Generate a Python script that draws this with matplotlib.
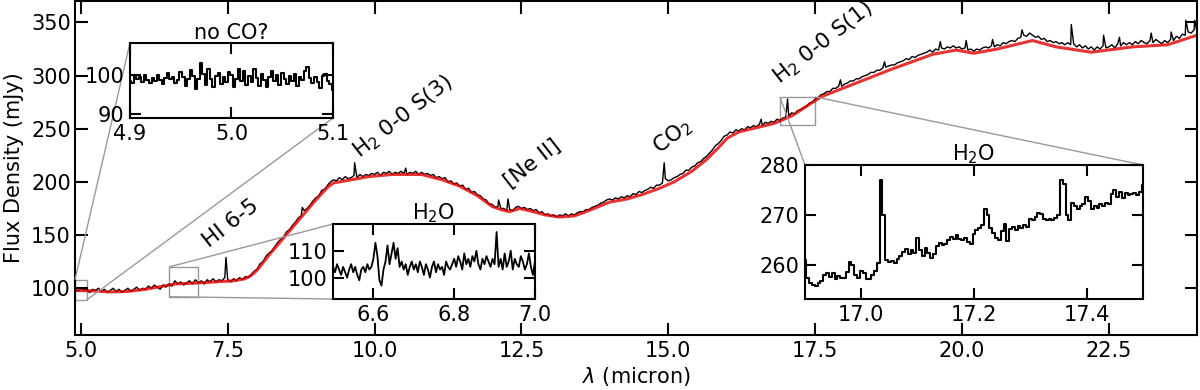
import numpy as np
import matplotlib
matplotlib.use('Agg')
import matplotlib.pyplot as plt
from mpl_toolkits.axes_grid1.inset_locator import mark_inset

# full spectrum, sampled every 0.05 micron from 4.90 to 24.00 (one row = 1 micron)
flux = [99, 97, 100, 98, 99, 96, 99, 98, 100, 97, 99, 96, 98, 100, 97, 99, 96, 98, 100, 97,
        99, 101, 98, 100, 99, 102, 100, 103, 101, 99, 103, 101, 104, 102, 107, 104, 106, 103, 105, 107,
        104, 108, 105, 107, 104, 108, 106, 109, 106, 108, 107, 110, 108, 106, 109, 107, 110, 108, 111, 110,
        113, 116, 118, 123, 125, 130, 133, 135, 139, 143, 146, 148, 153, 155, 159, 162, 166, 168, 173, 175,
        178, 182, 185, 187, 192, 193, 197, 200, 202, 201, 204, 202, 205, 203, 204, 206, 204, 207, 205, 207,
        206, 208, 207, 209, 206, 209, 208, 210, 207, 209, 208, 210, 208, 207, 209, 208, 210, 207, 209, 207,
        208, 206, 207, 204, 205, 203, 204, 200, 201, 198, 199, 196, 197, 193, 194, 190, 191, 188, 187, 184,
        183, 179, 179, 176, 177, 175, 175, 173, 174, 173, 176, 177, 175, 176, 174, 175, 173, 174, 171, 172,
        169, 170, 168, 169, 167, 169, 168, 170, 168, 170, 169, 171, 172, 172, 174, 174, 176, 177, 178, 180,
        181, 183, 184, 183, 185, 184, 186, 185, 187, 186, 189, 188, 191, 190, 192, 193, 195, 194, 197, 197,
        199, 203, 201, 202, 204, 205, 207, 208, 211, 211, 214, 215, 218, 219, 222, 224, 227, 230, 234, 236,
        239, 243, 244, 247, 246, 249, 248, 250, 249, 252, 251, 253, 252, 254, 253, 256, 255, 257, 256, 259,
        258, 260, 261, 262, 265, 264, 267, 268, 270, 271, 274, 275, 278, 279, 282, 283, 285, 285, 288, 288,
        290, 290, 292, 293, 295, 295, 297, 297, 299, 300, 301, 303, 303, 305, 305, 307, 308, 309, 310, 310,
        312, 313, 314, 316, 315, 318, 317, 319, 320, 321, 322, 324, 322, 325, 324, 326, 325, 327, 326, 328,
        326, 327, 325, 326, 324, 325, 323, 325, 324, 326, 327, 326, 328, 327, 329, 328, 331, 330, 332, 333,
        332, 335, 336, 338, 337, 340, 338, 336, 337, 334, 335, 332, 333, 331, 332, 330, 331, 329, 331, 329,
        330, 327, 329, 326, 328, 325, 327, 324, 327, 325, 328, 326, 327, 329, 326, 330, 328, 331, 329, 331,
        329, 332, 330, 333, 331, 330, 333, 331, 334, 332, 330, 333, 331, 334, 333, 337, 335, 339, 338, 341,
        340, 343, 341]

# narrow emission features on top of the spectrum
line_wave = [7.47, 8.77, 9.66, 10.53, 12.11, 12.27, 14.93, 16.58, 17.03, 17.93, 18.68,
             19.63, 20.07, 20.52, 21.02, 21.86, 22.41, 22.68, 23.22, 23.56, 23.81, 23.96]
line_flux = [129, 176, 218, 213, 183, 184, 218, 259, 278, 296, 313,
             332, 333, 334, 343, 348, 338, 336, 340, 341, 352, 352]

# smooth continuum model
cont_wave = [4.9, 5.2, 5.5, 5.8, 6.1, 6.3, 6.6, 7.0, 7.3, 7.6, 7.8, 7.9, 8.0, 8.2,
             8.4, 8.6, 8.8, 9.0, 9.2, 9.3, 9.6, 9.9, 10.3, 10.8, 11.15, 11.45,
             11.75, 12.0, 12.15, 12.3, 12.47, 12.7, 12.9, 13.15, 13.4, 13.6, 14.0,
             14.3, 14.55, 14.85, 15.1, 15.4, 15.65, 15.85, 16.0, 16.2, 16.5, 16.8,
             17.1, 17.6, 18.2, 18.8, 19.2, 19.5, 19.9, 20.2, 20.6, 21.2, 21.6,
             22.2, 22.9, 23.5, 24.0]
cont_flux = [98, 97.5, 96.5, 97, 99, 101, 104, 105, 106, 107, 109, 112, 117, 131,
             144, 157, 170, 183, 195, 199, 202, 205, 207, 207, 202, 196, 187, 177,
             174, 172, 175, 172, 169, 167, 168, 172, 181, 184, 188, 194, 200, 210,
             221, 232, 241, 247, 251, 255, 262, 280, 293, 306, 314, 320, 324, 321,
             325, 333, 327, 322, 327, 329, 338]

# zoom 1: 4.9 - 5.1 micron
co_flux = [98.5, 97.8, 99.6, 98.9, 99.3, 98.2, 99.8, 98.6, 97.9, 99.1, 98.4, 99.9,
           98.7, 97.5, 99.2, 100.3, 98.8, 99.5, 97.9, 98.6, 100.6, 99.4, 97.2, 99.0,
           101.2, 99.6, 96.4, 98.8, 103.0, 100.1, 97.4, 101.5, 98.9, 96.8, 99.7,
           100.4, 97.6, 99.3, 98.1, 100.6, 99.8, 96.9, 99.0, 101.3, 98.4, 100.8,
           97.3, 99.6, 98.2, 101.4, 99.1, 97.0, 100.2, 98.7, 96.8, 99.5, 101.0,
           98.3, 99.9, 97.4, 100.5, 98.8, 97.7, 99.6, 98.3, 100.1, 97.2, 99.4, 98.6,
           100.9, 101.8, 99.2, 97.8, 99.5, 98.1, 96.6, 99.7, 100.2, 98.4, 97.5, 96.2]

# zoom 2: 6.5 - 7.0 micron
h2o_a_flux = [104, 102, 105, 103, 101, 104, 102, 100, 103, 105, 102, 104, 101, 99,
              103, 104, 102, 105, 103, 104,
              107, 113, 108, 99, 97, 103, 106, 112, 105, 109, 113, 107, 111, 104,
              106, 103, 105, 101, 104, 106,
              103, 105, 102, 106, 104, 101, 105, 103, 100, 104, 106, 102, 105, 103,
              104, 101, 106, 104, 103, 105,
              107, 104, 108, 106, 103, 109, 105, 107, 104, 108, 106, 110, 105, 103,
              107, 105, 108, 106, 104, 107,
              105, 117, 104, 107, 103, 109, 104, 106, 110, 103, 107, 105, 104, 108,
              106, 103, 105, 109, 104, 101, 106]

# zoom 3: 16.9 - 17.5 micron
h2o_b_flux = [261.0, 257.5, 256.5, 256.0, 255.8, 256.5, 256.8, 258.0, 258.5, 257.6,
              258.4, 257.3, 257.8, 257.4, 257.5, 258.6, 260.6, 260.0, 258.0, 257.5,
              258.9, 258.4, 257.2, 257.3, 258.0, 258.8, 260.5, 277.0, 270.0, 261.0,
              260.6, 260.9, 260.5, 261.2, 261.8, 262.6, 263.3, 262.2, 263.0, 262.4,
              265.4, 263.0, 261.8, 263.5, 262.4, 261.5, 262.3, 263.8, 264.5, 264.0,
              264.3, 265.0, 265.6, 265.2, 266.0, 265.3, 265.0, 265.5, 264.6, 264.2,
              266.2, 267.0, 267.4, 268.0, 271.2, 270.0, 267.5, 266.5, 265.5, 265.0,
              266.8, 268.2, 264.8, 267.3, 267.6, 267.0, 267.8, 267.4, 268.0, 267.6,
              269.3, 269.0, 269.6, 270.4, 270.2, 269.2, 269.0, 269.3, 269.1, 269.4,
              270.0, 277.0, 276.2, 270.0, 269.0, 272.4, 271.8, 271.2, 271.8, 272.2,
              273.6, 272.8, 271.2, 271.8, 271.4, 272.2, 271.8, 272.5, 272.2, 274.2,
              275.0, 273.6, 274.6, 273.4, 274.4, 274.0, 274.3, 274.5, 274.0, 274.6,
              276.0]

plt.rcParams['font.size'] = 15
plt.rcParams['axes.linewidth'] = 1.5

def style_ticks(a, length=8):
    a.tick_params(direction='in', top=True, right=True, length=length, width=1.5, pad=4)

wave = np.round(4.9 + 0.05 * np.arange(len(flux)), 2)
all_wave = np.concatenate([wave, line_wave])
all_flux = np.concatenate([flux, line_flux])
order = np.argsort(all_wave)

fig = plt.figure(figsize=(12, 3.9), dpi=100)
ax = fig.add_axes([0.0625, 0.141, 0.935, 0.856])
ax.plot(all_wave[order], all_flux[order], color='k', lw=1.0)
ax.plot(cont_wave, cont_flux, color='#e00000', lw=2.2, alpha=0.8)
ax.set_xlim(4.9, 24.0)
ax.set_ylim(56, 370)
ax.set_xticks([5.0, 7.5, 10.0, 12.5, 15.0, 17.5, 20.0, 22.5])
ax.set_yticks([100, 150, 200, 250, 300, 350])
style_ticks(ax, 9)
ax.tick_params(axis='y', pad=3)
ax.set_xlabel(r'$\lambda$ (micron)', labelpad=3)
ax.set_ylabel('Flux Density (mJy)', labelpad=5)

txt = dict(rotation=38, rotation_mode='anchor', ha='left', va='baseline', fontsize=15.5)
ax.text(7.18, 138, 'HI 6-5', **txt)
ax.text(9.74, 222, r'H$_2$ 0-0 S(3)', **txt)
ax.text(12.31, 194, '[Ne II]', **txt)
ax.text(14.85, 226, r'CO$_2$', **txt)
ax.text(16.90, 292, r'H$_2$ 0-0 S(1)', **txt)

# inset 1
ax1 = fig.add_axes([0.1083, 0.6974, 0.1692, 0.1923])
ax1.plot(np.linspace(4.9, 5.1, len(co_flux)), co_flux, color='k', lw=1.5,
         drawstyle='steps-mid')
ax1.set_xlim(4.9, 5.1)
ax1.set_ylim(89, 108)
ax1.set_xticks([4.9, 5.0, 5.1])
ax1.set_yticks([90, 100])
style_ticks(ax1)
ax1.set_title('no CO?', fontsize=15, pad=3)
mark_inset(ax, ax1, loc1=2, loc2=4, fc='none', ec='0.6', lw=1)

# inset 2
ax2 = fig.add_axes([0.2775, 0.2333, 0.1683, 0.1923])
ax2.plot(np.linspace(6.5, 7.0, len(h2o_a_flux)), h2o_a_flux, color='k', lw=1.3)
ax2.set_xlim(6.5, 7.0)
ax2.set_ylim(92, 120)
ax2.set_xticks([6.6, 6.8, 7.0])
ax2.set_yticks([100, 110])
style_ticks(ax2)
ax2.set_title(r'H$_2$O', fontsize=15, pad=3)
mark_inset(ax, ax2, loc1=2, loc2=3, fc='none', ec='0.6', lw=1)

# inset 3
ax3 = fig.add_axes([0.6708, 0.2333, 0.2817, 0.3436])
ax3.plot(np.linspace(16.9, 17.5, len(h2o_b_flux)), h2o_b_flux, color='k', lw=1.5,
         drawstyle='steps-mid')
ax3.set_xlim(16.9, 17.5)
ax3.set_ylim(253.2, 280)
ax3.set_xticks([17.0, 17.2, 17.4])
ax3.set_yticks([260, 270, 280])
style_ticks(ax3)
ax3.set_title(r'H$_2$O', fontsize=15, pad=3)
mark_inset(ax, ax3, loc1=2, loc2=1, fc='none', ec='0.6', lw=1)

fig.savefig('out.png', dpi=100)
